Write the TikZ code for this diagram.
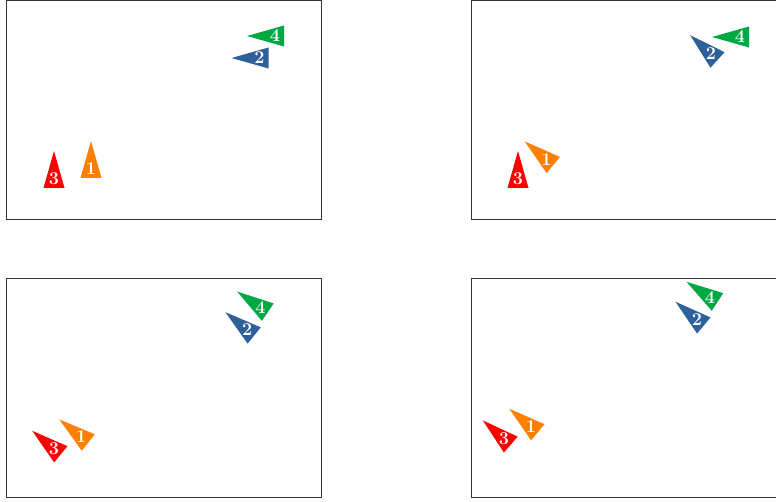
\documentclass[tikz,border=0pt]{standalone}
\usepackage{tikz}
\definecolor{cgreen}{HTML}{00A844}
\definecolor{cblue}{HTML}{2E6099}
\definecolor{cred}{HTML}{FF0000}
\definecolor{corange}{HTML}{FF8000}
\tikzset{
  panel/.style={draw=black!80,line width=0.7pt},
  lbl/.style={text=white,font=\fontsize{18}{18}\selectfont\bfseries,inner sep=0pt},
}
\newcommand\marker[6]{%
  \begin{scope}[shift={(#2,#3)},rotate=#4]
    \fill[#5] (37,0) -- (0,10.5) -- (0,-10.5) -- cycle;
    \node[lbl] (#1) at (9,0) {#6};
  \end{scope}}
\begin{document}
\begin{tikzpicture}[x=1pt,y=1pt]
\useasboundingbox (0,0) rectangle (776,501);
\draw[panel] (6,281.5) rectangle (321,500.5);
\draw[panel] (471,281.5) rectangle (786,500.5);
\draw[panel] (6,4) rectangle (321,223);
\draw[panel] (471,4) rectangle (786,223);
% panel 1
\marker{a4}{284}{465}{180}{cgreen}{4}
\marker{a2}{268.5}{443}{180}{cblue}{2}
\marker{a3}{54}{313}{90}{cred}{3}
\marker{a1}{91}{323}{90}{corange}{1}
% panel 2
\marker{b4}{749}{464}{180}{cgreen}{4}
\marker{b2}{717.5}{441}{137.7}{cblue}{2}
\marker{b1}{553.3}{336}{140.5}{corange}{1}
\marker{b3}{518}{313}{90}{cred}{3}
% panel 3
\marker{c4}{267.8}{188.8}{146}{cgreen}{4}
\marker{c2}{254.2}{165.5}{141}{cblue}{2}
\marker{c3}{60.8}{46.7}{140.6}{cred}{3}
\marker{c1}{88.3}{58.5}{141.5}{corange}{1}
% panel 4
\marker{d4}{717.5}{199}{146.9}{cgreen}{4}
\marker{d2}{703.8}{175.5}{140}{cblue}{2}
\marker{d3}{510.8}{56.4}{139.2}{cred}{3}
\marker{d1}{537.8}{68.7}{140.4}{corange}{1}
\end{tikzpicture}
\end{document}
